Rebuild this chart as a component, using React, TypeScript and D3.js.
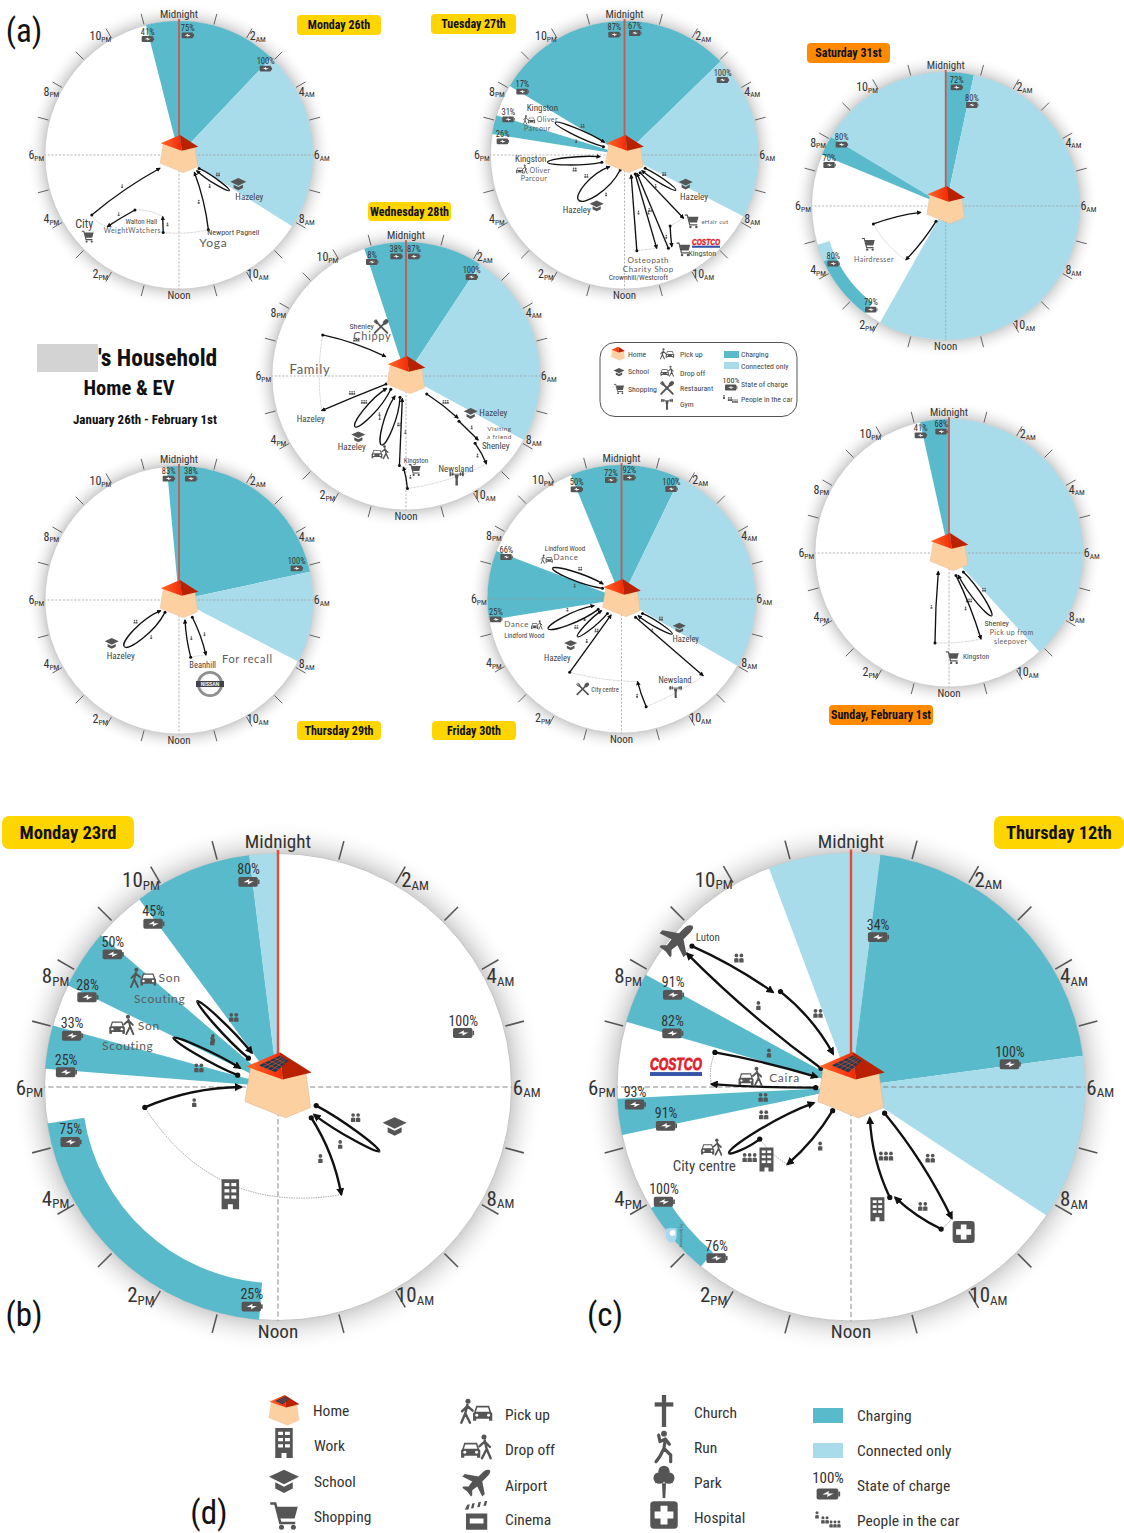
import React from "react";
import * as d3 from "d3";

const FONT = '"Liberation Sans Narrow","Roboto Condensed","Noto Sans",sans-serif';
const HAND = 'Lato,"Noto Sans",sans-serif';
const TEAL = "#58bacb";
const LIGHT = "#a9dcea";
const GREY = "#555";
const R0 = 134;

const angle = d3.scaleLinear().domain([0, 24]).range([0, 2 * Math.PI]);
const radius = d3.scaleLinear().domain([0, 1]).range([0, R0]);
const pt = (h: number, r: number): [number, number] => [
  radius(r) * Math.sin(angle(h)),
  -radius(r) * Math.cos(angle(h)),
];

const tickHours = [1, 2, 3, 4, 5, 7, 8, 9, 10, 11, 13, 14, 15, 16, 17, 19, 20, 21, 22, 23];
const hourLabels: [number, string, string][] = [
  [2, "2", "AM"], [4, "4", "AM"], [6, "6", "AM"], [8, "8", "AM"], [10, "10", "AM"],
  [14, "2", "PM"], [16, "4", "PM"], [18, "6", "PM"], [20, "8", "PM"], [22, "10", "PM"],
];

// sectors: start hour, end hour, kind, inner radius share
type Sec = [number, number, string, number?];
// trips: from hour, from distance, to hour, to distance, bend, people in car
type Trip = [number, number, number, number, number, number];
type Stay = [number, number, number, number, number];

const monSectors: Sec[] = [[23.05, 26.9, "c"], [2.9, 8.15, "l"]];
const monTrips: Trip[] = [
  [8.25, .18, 8.35, .46, -.08, 2], [8.35, .46, 8.77, .176, -.08, 1],
  [10.57, .6, 9.23, .173, .06, -1], [12.77, .59, 12.99, .476, .01, 1],
  [14.58, .526, 15.0, .756, .02, 1], [15.7, .79, 15.67, .173, -.05, 1],
];
const monStays: Stay[] = [[15.0, .756, 15.7, .79, -.2], [14.58, .526, 12.99, .476, -.15], [12.77, .59, 10.57, .6, .08]];
const monSoc: [string, number, number][] = [["41%", 443, 117], ["75%", 563, 106], ["100%", 797, 206]];
const monText: [string, number, number, number, string?][] = [
  ["City", 253, 672, 12], ["Hazeley", 748, 590, 9], ["Walton Hall", 424, 663, 7],
  ["WeightWatchers", 397, 692, 7, "h"], ["Newport Pagnell", 700, 697, 8], ["Yoga", 640, 728, 12, "h"],
];
const monIcons: [string, number, number, number][] = [["cart", 263, 710, 13], ["school", 715, 552, 16]];

const tueSectors: Sec[] = [[20.07, 27.05, "c"], [3.05, 7.82, "l"], [18.6, 19.15, "c"]];
const tueTrips: Trip[] = [
  [8.19, .184, 8.29, .464, -.08, 2], [8.29, .464, 8.8, .174, -.08, 1],
  [9.23, .176, 9.13, .646, 0, 0], [9.82, .63, 10.18, .77, .02, 1],
  [10.32, .77, 9.73, .165, 0, 1], [10.05, .163, 10.73, .737, 0, 2], [11.51, .72, 10.77, .157, 0, -1],
  [13.07, .117, 15.04, .48, -.22, 1], [15.04, .48, 15.46, .14, -.22, 2],
  [16.8, .178, 17.64, .577, -.08, 2], [17.64, .577, 17.74, .182, -.08, 0],
  [19.44, .169, 19.67, .57, -.08, 1], [19.67, .57, 20.15, .177, -.08, 2],
];
const tueStays: Stay[] = [[10.18, .77, 10.32, .77, 0], [10.73, .737, 11.51, .72, 0], [9.13, .646, 9.82, .63, 0]];
const tueSoc: [string, number, number][] = [["87%", 583, 104], ["67%", 645, 99], ["100%", 908, 240], ["17%", 307, 275], ["31%", 265, 358], ["26%", 248, 424]];
const tueText: [string, number, number, number, string?][] = [
  ["Kingston", 367, 322, 9], ["Oliver", 382, 358, 7, "h"], ["Parcour", 352, 385, 7, "h"],
  ["Kingston", 332, 477, 9], ["Oliver", 360, 510, 7, "h"], ["Parcour", 342, 535, 7, "h"],
  ["Hazeley", 470, 628, 9], ["Hazeley", 822, 590, 9], ["eHair cut", 885, 667, 6, "h"],
  ["Kingston", 847, 758, 8], ["Osteopath", 685, 780, 8, "h"], ["Charity Shop", 685, 808, 8, "h"],
  ["Crownhill/Westcroft", 655, 833, 7.5],
];
const tueIcons: [string, number, number, number][] = [
  ["pickup", 327, 360, 12], ["dropoff", 305, 510, 12], ["school", 530, 617, 14], ["school", 797, 552, 14],
  ["cart", 815, 664, 15], ["cart", 790, 748, 15], ["costco", 858, 730, 28],
];

const wedSectors: Sec[] = [[22.79, 26.23, "c"], [2.23, 7.9, "l"]];
const wedTrips: Trip[] = [
  [8.73, .205, 8.6, .5, -.04, 3], [8.7, .52, 8.77, .72, 0, 1], [8.95, .72, 9.17, .89, -.06, -1],
  [11.95, .84, 12.11, .68, .05, 1], [12.28, .67, 12.62, .17, 0, -1],
  [13.05, .165, 13.3, .546, -.14, 2], [13.3, .546, 13.92, .17, -.14, 1],
  [15.27, .15, 15.01, .536, -.14, 1], [15.01, .536, 15.83, .171, -.14, 3],
  [16.53, .16, 16.51, .68, .01, 3], [19.75, .693, 20.9, .21, -.06, 3],
];
const wedStays: Stay[] = [[9.17, .89, 11.95, .84, -.08], [16.51, .68, 19.75, .693, -.08], [8.77, .72, 8.95, .72, 0], [12.11, .68, 12.28, .67, 0]];
const wedSoc: [string, number, number][] = [["8%", 396, 156], ["38%", 469, 139], ["87%", 522, 139], ["100%", 695, 201]];
const wedText: [string, number, number, number, string?][] = [
  ["Shenley", 365, 348, 8], ["Chippy", 397, 377, 11, "h"], ["Family", 210, 478, 13, "h"],
  ["Hazeley", 212, 627, 9], ["Hazeley", 335, 711, 9], ["Kingston", 528, 751, 7],
  ["Hazeley", 760, 607, 9], ["Visiting", 778, 657, 6.5, "h"], ["a friend", 778, 680, 6.5, "h"],
  ["Shenley", 767, 707, 9], ["Newsland", 648, 775, 9],
];
const wedIcons: [string, number, number, number][] = [
  ["restaurant", 423, 350, 15], ["school", 355, 680, 14], ["dropoff", 420, 730, 18],
  ["cart", 524, 780, 13], ["school", 692, 610, 14], ["gym", 650, 805, 17],
];

const thuSectors: Sec[] = [[23.65, 29.19, "c"], [5.19, 7.82, "l"]];
const thuTrips: Trip[] = [
  [9.49, .163, 10.26, .457, -.06, 1], [11.23, .437, 10.89, .156, -.05, -1],
  [15.24, .139, 15.3, .536, -.17, 1], [15.3, .536, 15.99, .158, -.17, 2],
];
const thuStays: Stay[] = [[10.26, .457, 11.23, .437, .05]];
const thuSoc: [string, number, number][] = [["83%", 416, 86], ["38%", 483, 86], ["100%", 800, 355]];
const thuText: [string, number, number, number, string?][] = [
  ["Hazeley", 272, 618, 9], ["Beanhill", 518, 645, 8.5], ["For recall", 652, 628, 11, "h"],
];
const thuIcons: [string, number, number, number][] = [["school", 245, 580, 14], ["nissan", 540, 702, 28]];

const friSectors: Sec[] = [[22.52, 25.72, "c"], [1.72, 8.0, "l"], [17.4, 19.4, "c"]];
const friTrips: Trip[] = [
  [8.3, .19, 8.3, .46, -.08, 2], [8.3, .46, 9, .176, -.08, 1], [9.5, .172, 8.88, .836, 0, 0],
  [11.14, .824, 11.27, .628, -.04, 1], [14.35, .67, 14.2, .142, 0, 1],
  [14.95, .15, 15.3, .432, -.1, 2], [15.3, .432, 15.98, .172, -.1, 1],
  [16.4, .19, 16.53, .59, -.12, 2], [16.53, .59, 17.09, .21, -.12, 1],
  [19.95, .163, 19.6, .563, -.1, 1], [19.6, .563, 20.62, .177, -.1, 2],
];
const friStays: Stay[] = [[8.88, .836, 11.14, .824, -.06], [11.27, .628, 14.35, .67, -.06]];
const friSoc: [string, number, number][] = [["50%", 320, 148], ["72%", 423, 120], ["92%", 478, 113], ["100%", 604, 147], ["66%", 109, 351], ["25%", 78, 538]];
const friText: [string, number, number, number, string?][] = [
  ["Lindford Wood", 285, 326, 7], ["Dance", 288, 350, 8, "h"], ["Dance", 140, 553, 8, "h"],
  ["Lindford Wood", 163, 586, 7], ["Hazeley", 262, 653, 8.5], ["Hazeley", 647, 598, 8.5],
  ["Newsland", 615, 719, 8.5], ["City centre", 405, 748, 6.5],
];
const friIcons: [string, number, number, number][] = [
  ["pickup", 230, 358, 12], ["dropoff", 200, 557, 12], ["school", 302, 615, 13], ["school", 628, 563, 13],
  ["restaurant", 338, 747, 13], ["gym", 617, 755, 15],
];

const satSectors: Sec[] = [[0, .81, "c"], [.81, 13.96, "l"], [20.07, 24, "l"], [19.5, 20.07, "c"], [14.47, 16.38, "c", .905], [16.38, 16.88, "l", .905]];
const satTrips: Trip[] = [[14.15, .135, 14.43, .5, -.05, 0], [17.07, .556, 17.05, .192, -.06, 0]];
const satStays: Stay[] = [[14.43, .5, 17.07, .556, -.12]];
const satSoc: [string, number, number][] = [["72%", 470, 142], ["80%", 516, 195], ["80%", 125, 314], ["70%", 88, 375], ["80%", 100, 671], ["79%", 213, 809]];
const satText: [string, number, number, number, string?][] = [["Hairdresser", 222, 657, 7, "h"]];
const satIcons: [string, number, number, number][] = [["cart", 205, 613, 14]];

const sunSectors: Sec[] = [[23.17, 24, "c"], [0, 9.17, "l"]];
const sunTrips: Trip[] = [
  [9.53, .178, 9.72, .566, -.1, 2], [9.72, .566, 10.49, .18, -.1, 3],
  [10.84, .175, 10.64, .685, -.04, -1], [12.59, .68, 14.01, .158, -.02, 1],
];
const sunStays: Stay[] = [[10.64, .685, 12.59, .68, -.06]];
const sunSoc: [string, number, number][] = [["41%", 362, 106], ["68%", 424, 95]];
const sunText: [string, number, number, number, string?][] = [
  ["Shenley", 590, 668, 8], ["Pick up from", 635, 697, 7, "h"], ["sleepover", 632, 725, 7, "h"], ["Kingston", 528, 768, 7.5],
];
const sunIcons: [string, number, number, number][] = [["cart", 457, 773, 14]];

const bSectors: Sec[] = [[21.57, 23.53, "c"], [23.53, 24, "l"], [19.72, 20.71, "c"], [18.3, 19.02, "c"], [12.31, 17.4, "c", .84]];
const bTrips: Trip[] = [
  [7.73, .182, 8.16, .514, -.06, 2], [8.16, .514, 8.5, .194, -.06, 1], [8.85, .194, 9.97, .535, -.1, -1],
  [17.42, .577, 18, .157, -.1, -1], [19.09, .18, 19.68, .495, -.06, 2], [19.68, .495, 19.77, .181, -.06, 1],
  [20.95, .177, 21.12, .505, -.06, 1], [21.12, .505, 21.5, .183, -.06, 2],
];
const bStays: Stay[] = [[9.97, .535, 17.42, .577, -.33]];
const bSoc: [string, number, number][] = [["80%", 696, 209], ["45%", 430, 331], ["50%", 316, 420], ["28%", 245, 545], ["33%", 202, 657], ["25%", 185, 763], ["75%", 198, 966], ["25%", 705, 1445], ["100%", 1297, 649]];
const bText: [string, number, number, number, string?][] = [
  ["Son", 475, 487, 12, "h"], ["Scouting", 447, 549, 12, "h"], ["Son", 417, 627, 12, "h"], ["Scouting", 358, 686, 12, "h"],
];
const bIcons: [string, number, number, number][] = [["pickup", 400, 490, 26], ["dropoff", 340, 630, 26], ["school", 1105, 920, 24], ["work", 645, 1118, 30]];

const cSectors: Sec[] = [[22.63, 24.48, "l"], [.48, 5.49, "c"], [5.49, 8.22, "l"], [19.08, 19.91, "c"], [17.21, 17.81, "c"], [14.66, 15.92, "c", .92]];
const cTrips: Trip[] = [
  [8.53, .182, 9.5, .708, -.06, 2], [9.84, .719, 10.55, .508, -.08, -2], [10.71, .5, 9.9, .154, -.1, -3],
  [14.52, .128, 14.63, .428, -.08, 1], [16.02, .449, 16.1, .593, -.1, 3], [16.1, .593, 16.45, .172, -.08, 2],
  [17.93, .151, 18.08, .597, -.02, 2], [18.95, .6, 19.09, .15, -.03, 1], [20.13, .151, 20.61, .905, -.04, -1],
  [20.77, .908, 21.37, .524, -.05, 2], [21.57, .507, 22.11, .16, -.1, 2],
];
const cStays: Stay[] = [[14.63, .428, 16.02, .449, -.1], [18.08, .597, 18.95, .6, -.15], [20.61, .905, 20.77, .908, -.2], [9.5, .708, 9.84, .719, -.1]];
const cSoc: [string, number, number][] = [["34%", 872, 370], ["100%", 1245, 740], ["91%", 292, 538], ["82%", 290, 650], ["93%", 184, 857], ["91%", 272, 919], ["100%", 266, 1140], ["76%", 415, 1304]];
const cText: [string, number, number, number, string?][] = [
  ["Luton", 390, 370, 11], ["Caira", 607, 778, 12, "h"], ["City centre", 380, 1035, 15],
];
const cIcons: [string, number, number, number][] = [
  ["plane", 300, 385, 36], ["costco", 300, 750, 52], ["dropoff", 510, 780, 25], ["dropoff", 400, 985, 22],
  ["work", 556, 1017, 24], ["work", 870, 1162, 24], ["hospital", 1114, 1228, 24], ["ou", 295, 1238, 20],
];

const clocks = [
  { id: "mon", cx: 179, cy: 155, R: 134, crop: [0, 0, 3, 3], sectors: monSectors, trips: monTrips, stays: monStays, soc: monSoc, text: monText, icons: monIcons },
  { id: "tue", cx: 624.5, cy: 155, R: 134, crop: [420, 0, 3, 3], sectors: tueSectors, trips: tueTrips, stays: tueStays, soc: tueSoc, text: tueText, icons: tueIcons },
  { id: "thu", cx: 179, cy: 600, R: 134, crop: [30, 450, 3, 3], sectors: thuSectors, trips: thuTrips, stays: thuStays, soc: thuSoc, text: thuText, icons: thuIcons },
  { id: "fri", cx: 621.5, cy: 599, R: 134, crop: [470, 440, 3, 3], sectors: friSectors, trips: friTrips, stays: friStays, soc: friSoc, text: friText, icons: friIcons },
  { id: "sat", cx: 945.7, cy: 206, R: 134, crop: [800, 40, 3, 3], sectors: satSectors, trips: satTrips, stays: satStays, soc: satSoc, text: satText, icons: satIcons },
  { id: "sun", cx: 949, cy: 553, R: 134, crop: [800, 400, 3, 3], sectors: sunSectors, trips: sunTrips, stays: sunStays, soc: sunSoc, text: sunText, icons: sunIcons },
  { id: "wed", cx: 406, cy: 376, R: 134, crop: [240, 210, 3, 3], sectors: wedSectors, trips: wedTrips, stays: wedStays, soc: wedSoc, text: wedText, icons: wedIcons },
  { id: "b", cx: 278, cy: 1087, R: 233.5, big: true, crop: [0, 810, 2.8, 2.91], sectors: bSectors, trips: bTrips, stays: bStays, soc: bSoc, text: bText, icons: bIcons },
  { id: "c", cx: 851, cy: 1087, R: 234, big: true, crop: [570, 810, 2.83, 2.91], sectors: cSectors, trips: cTrips, stays: cStays, soc: cSoc, text: cText, icons: cIcons },
];

const badges: [string, number, number, number, number, string, number][] = [
  ["Monday 26th", 297, 15, 84, 20, "#ffd500", 12], ["Tuesday 27th", 431, 14, 85, 20, "#ffd500", 12],
  ["Saturday 31st", 807, 43, 83, 20, "#ff8a00", 12], ["Wednesday 28th", 368, 202, 83, 19, "#ffd500", 12],
  ["Thursday 29th", 297, 721, 84, 19, "#ffd500", 12], ["Friday 30th", 432, 721, 84, 19, "#ffd500", 12],
  ["Sunday, February 1st", 829, 705, 104, 20, "#ff8a00", 12], ["Monday 23rd", 2, 816, 132, 33, "#ffd500", 18.6],
  ["Thursday 12th", 994, 816, 130, 33, "#ffd500", 18.4],
];
const panelLetters: [string, number, number][] = [["(a)", 24, 30], ["(b)", 24, 1314], ["(c)", 605, 1314], ["(d)", 209, 1512]];

const smallLegendIcons: [string, number, number, number][] = [
  ["school", 619, 372, 11], ["cart", 619, 389, 11], ["pickup", 667, 354, 14], ["dropoff", 667, 372, 14],
  ["restaurant", 667, 388, 14], ["gym", 667, 404, 14],
];
const smallLegendText: [string, number, number][] = [
  ["Home", 628, 354], ["School", 628, 371], ["Shopping", 628, 389], ["Pick up", 680, 354], ["Drop off", 680, 373],
  ["Restaurant", 680, 388], ["Gym", 680, 404], ["Charging", 741, 354], ["Connected only", 741, 366],
  ["State of charge", 741, 384], ["People in the car", 741, 399],
];
const bigLegendIcons: [string, number, number, number][] = [
  ["work", 284, 1443, 30], ["school", 284, 1481, 30], ["cart", 284, 1516, 30], ["pickup", 476, 1412, 32],
  ["dropoff", 476, 1449, 32], ["plane", 476, 1484, 30], ["cinema", 476, 1516, 30], ["church", 664, 1411, 32],
  ["run", 664, 1447, 32], ["park", 664, 1482, 32], ["hospital", 664, 1515, 30],
];
const bigLegendText: [string, number, number][] = [
  ["Home", 313, 1410], ["Work", 314, 1445], ["School", 314, 1481], ["Shopping", 314, 1516],
  ["Pick up", 505, 1414], ["Drop off", 505, 1449], ["Airport", 505, 1485], ["Cinema", 505, 1519],
  ["Church", 694, 1412], ["Run", 694, 1447], ["Park", 694, 1482], ["Hospital", 694, 1517],
  ["Charging", 857, 1415], ["Connected only", 857, 1450], ["State of charge", 857, 1485], ["People in the car", 857, 1520],
];

const Person = ({ x = 0 }: { x?: number }) => (
  <g transform={`translate(${x},0)`}>
    <circle cx={0} cy={-1.2} r={0.85} fill={GREY} />
    <path d="M-1,2 L-1,0.3 Q0,-.4 1,0.3 L1,2 Z" fill={GREY} />
  </g>
);
const People = ({ n, x, y, s = 1 }: { n: number; x: number; y: number; s?: number }) => (
  <g transform={`translate(${x},${y}) scale(${s})`}>
    {d3.range(n).map((i) => <Person key={i} x={(i - (n - 1) / 2) * 2.3} />)}
  </g>
);

const Battery = ({ x, y, s }: { x: number; y: number; s: number }) => (
  <g transform={`translate(${x},${y}) scale(${s})`}>
    <rect x={-6} y={-2.9} width={11.4} height={5.8} rx={1} fill={GREY} />
    <rect x={5.4} y={-1.3} width={1} height={2.6} fill={GREY} />
    <path d="M-3,0.3 L0.5,-1.6 L0.2,-0.3 L3,-0.3 L-0.5,1.6 L-0.2,0.3 Z" fill="#fff" />
  </g>
);

const Car = () => (
  <g>
    <path d="M-8,-1 L-6,-7 L6,-7 L8,-1 L9,0 L9,7 L6,7 L6,5 L-6,5 L-6,7 L-9,7 L-9,0 Z" fill={GREY} />
    <path d="M-5,-5.5 L5,-5.5 L6.3,-1.5 L-6.3,-1.5 Z" fill="#fff" />
    <circle cx={-5.5} cy={1.8} r={1.4} fill="#fff" />
    <circle cx={5.5} cy={1.8} r={1.4} fill="#fff" />
  </g>
);
const Walker = ({ flip = 1 }: { flip?: number }) => (
  <g transform={`scale(${flip},1)`} stroke={GREY} strokeWidth={1.8} fill="none" strokeLinecap="round">
    <circle cx={1} cy={-9} r={1.9} fill={GREY} stroke="none" />
    <path d="M0.5,-6.5 L-1,0 L-4,7 M-1,0 L2.5,7 M0.5,-5.5 L4.5,-2 M0.5,-5.5 L-3.5,-1.5" />
  </g>
);

const IconShape = ({ kind }: { kind: string }) => {
  switch (kind) {
    case "school":
      return (<g fill={GREY}><path d="M0,-9 L12,-3.5 L0,2.5 L-12,-3.5 Z" /><path d="M-7,1 L0,4.5 L7,1 L7,6 L0,9.5 L-7,6 Z" /></g>);
    case "cart":
      return (<g fill={GREY}><path d="M-11,-10 L-7,-10 L-3,5.5 L9,5.5" fill="none" stroke={GREY} strokeWidth={2} /><path d="M-6,-7.5 L11,-7.5 L8.5,2 L-3.8,2 Z" /><circle cx={-2} cy={9} r={2} /><circle cx={7.5} cy={9} r={2} /></g>);
    case "restaurant":
      return (
        <g stroke={GREY} strokeLinecap="round" fill="none">
          <path d="M-10,10 L6,-6" strokeWidth={3.2} />
          <path d="M10,10 L-6,-6" strokeWidth={3.2} />
          <ellipse cx={7.5} cy={-7.5} rx={3.6} ry={5} transform="rotate(45 7.5 -7.5)" fill={GREY} stroke="none" />
          <path d="M-6,-6 L-10,-10 M-5,-7 L-8,-11 M-7,-5 L-11,-8" strokeWidth={1.8} />
        </g>
      );
    case "pickup":
      return (<g><g transform="translate(-7,1)"><Walker /></g><g transform="translate(5,1) scale(.8)"><Car /></g></g>);
    case "dropoff":
      return (<g><g transform="translate(-4,1) scale(.8)"><Car /></g><g transform="translate(7,0)"><Walker flip={-1} /></g></g>);
    case "work":
      return (
        <g>
          <path d="M-7,-12 L7,-12 L7,12 L2,12 L2,8 L-2,8 L-2,12 L-7,12 Z" fill={GREY} />
          {[-9, -4, 1].map((y) => [-4.7, .8].map((x) => <rect key={`${x}${y}`} x={x} y={y} width={3.9} height={2.6} fill="#fff" />))}
        </g>
      );
    case "gym":
      return (
        <g fill={GREY}>
          <rect x={-10} y={-6.5} width={20} height={1.2} />
          <rect x={-10} y={-9} width={2.5} height={6} rx={.8} /><rect x={7.5} y={-9} width={2.5} height={6} rx={.8} />
          <rect x={-6.5} y={-8.5} width={2} height={5} rx={.8} /><rect x={4.5} y={-8.5} width={2} height={5} rx={.8} />
          <path d="M-3,-5 L3,-5 L1.6,1 L1.8,10 L-1.8,10 L-1.6,1 Z" />
        </g>
      );
    case "plane":
      return (<path fill={GREY} d="M11,-11 C9,-12 7,-11 5,-9 L2,-6 L-9,-8 L-11,-6 L-3,-2 L-6,2 L-10,2 L-11,3 L-7,6 L-4,10 L-3,9 L-3,5 L1,2 L5,10 L7,8 L5,-2 L9,-6 C11,-8 12,-10 11,-11 Z" />);
    case "hospital":
      return (<g><rect x={-11} y={-11} width={22} height={22} rx={3} fill={GREY} /><path d="M-2.8,-7.5 L2.8,-7.5 L2.8,-2.8 L7.5,-2.8 L7.5,2.8 L2.8,2.8 L2.8,7.5 L-2.8,7.5 L-2.8,2.8 L-7.5,2.8 L-7.5,-2.8 L-2.8,-2.8 Z" fill="#fff" /></g>);
    case "run":
      return (<g stroke={GREY} fill="none" strokeWidth={2.4} strokeLinecap="round" strokeLinejoin="round"><circle cx={0} cy={-10} r={2.2} fill={GREY} stroke="none" /><path d="M-4,-9 L-3,-4 L1,-6 L4,-2 M1,-6 L0,1 L5,6 L5,11 M0,1 L-3,7 L-6,11" /></g>);
    case "park":
      return (<g fill={GREY}><circle cx={0} cy={-8} r={4.2} /><circle cx={-3.5} cy={-3} r={4.4} /><circle cx={3.5} cy={-3} r={4.4} /><path d="M-1.5,1 L1.5,1 L1,12 L-1,12 Z" /></g>);
    case "church":
      return (<g fill={GREY}><rect x={-1.6} y={-12} width={3.2} height={24} /><rect x={-7} y={-6.5} width={14} height={3.2} /></g>);
    case "cinema":
      return (<g fill={GREY}><rect x={-8} y={-2} width={17} height={13} /><rect x={-5} y={2} width={11} height={4} fill="#fff" /><path d="M-9,-5 L-7,-9 L-5,-9.5 L-6,-5.3 Z M-4,-6 L-3,-10 L-1,-10.5 L-2,-6.3 Z M1,-7 L2,-11 L4,-11.5 L3,-7.3 Z M6,-8 L7,-12 L9,-12 L8,-8.3 Z" /></g>);
    case "costco":
      return (
        <g>
          <text x={0} y={1} textAnchor="middle" fontFamily="Liberation Sans" fontWeight={700} fontStyle="italic" fontSize={7.2} fill="#e0202c" stroke="#e0202c" strokeWidth={.35} textLength={24} lengthAdjust="spacingAndGlyphs">COSTCO</text>
          <rect x={-12} y={2} width={24} height={1.8} fill="#3454a8" />
        </g>
      );
    case "nissan":
      return (
        <g>
          <circle r={10} fill="#fff" stroke="#8f8f8f" strokeWidth={2.4} />
          <rect x={-12} y={-2.6} width={24} height={5.2} fill="#444" />
          <text y={1.7} textAnchor="middle" fontFamily="Liberation Sans" fontWeight={700} fontSize={4.2} fill="#fff">NISSAN</text>
        </g>
      );
    case "ou":
      return (
        <g>
          <path d="M-10,-8 Q0,-10 3,-8 L3,2 Q2,8 -4,9 Q-10,6 -10,0 Z" fill="#a8d8ee" />
          <circle cx={-2} cy={-3} r={3.5} fill="#fff" />
          <text transform="translate(7,0) rotate(90)" textAnchor="middle" fontSize={3.6} fill="#555" fontFamily={FONT}>The Open University</text>
        </g>
      );
    default:
      return null;
  }
};
const Icon = ({ kind, x, y, size }: { kind: string; x: number; y: number; size: number }) => (
  <g transform={`translate(${x},${y}) scale(${size / 24})`}><IconShape kind={kind} /></g>
);

const House = ({ solar }: { solar?: boolean }) => (
  <g>
    <polygon points="-15.7,-11.7 16,-8 18.7,11.7 4.3,17.7 -19,8.3" fill="#fdd0a2" stroke="#d9b08a" strokeWidth={.3} />
    <polygon points="1,-20 -18.3,-11.7 2.7,-4.3" fill="url(#roofL)" />
    <polygon points="1,-20 2.7,-4.3 19.3,-8.3" fill="#b82200" />
    {solar && (
      <g>
        <polygon points="1,-18 -11,-12.5 -1.5,-8.5 6,-15" fill="#223a50" />
        {[0.25, 0.5, 0.75].map((t) => (
          <g key={t} stroke="#e8502a" strokeWidth={.35}>
            <line x1={1 - 12 * t} y1={-18 + 5.5 * t} x2={6 - 7.5 * t} y2={-15 + 6.5 * t} />
            <line x1={1 + 5 * t} y1={-18 + 3 * t} x2={-11 + 9.5 * t} y2={-12.5 + 4 * t} />
          </g>
        ))}
      </g>
    )}
  </g>
);

const arcGen = d3.arc<Sec>()
  .innerRadius((d) => radius(d[3] ?? 0))
  .outerRadius(radius(1))
  .startAngle((d) => angle(d[0]))
  .endAngle((d) => angle(d[1]));

const bent = (x1: number, y1: number, x2: number, y2: number, bend: number) => {
  const dx = x2 - x1, dy = y2 - y1;
  const p = d3.path();
  p.moveTo(x1, y1);
  p.quadraticCurveTo((x1 + x2) / 2 - dy * bend, (y1 + y2) / 2 + dx * bend, x2, y2);
  return p.toString();
};
// one half of an out-and-back loop: the far end is blunt, as in an ellipse
const loop = (x1: number, y1: number, x2: number, y2: number, bend: number, bluntEnd: boolean) => {
  const dx = x2 - x1, dy = y2 - y1, B = bend * .95;
  const p = d3.path();
  p.moveTo(x1, y1);
  if (bluntEnd) {
    p.bezierCurveTo(x1 + dx * .4 - dy * B, y1 + dy * .4 + dx * B, x2 - dy * B * .7, y2 + dx * B * .7, x2, y2);
  } else {
    p.bezierCurveTo(x1 - dy * B * .7, y1 + dx * B * .7, x2 - dx * .4 - dy * B, y2 - dy * .4 + dx * B, x2, y2);
  }
  return p.toString();
};

const Clock = ({ c }: { c: any }) => {
  const k = c.R / R0;
  const [ox, oy, sx, sy] = c.crop;
  const px = (z: number) => ox + z / sx;
  const py = (z: number) => oy + z / sy;
  return (
    <g>
      <circle cx={c.cx} cy={c.cy} r={c.R * 1.14} fill="url(#halo)" />
      <g transform={`translate(${c.cx},${c.cy}) scale(${k})`}>
        <circle r={R0} fill="#fff" stroke="#bdbdbd" strokeWidth={.5} />
        {c.sectors.map((s: Sec, i: number) => (
          <path key={i} d={arcGen(s) as string} fill={s[2] === "c" ? TEAL : LIGHT} />
        ))}
        {[6, 12, 18].map((h) => {
          const [x, y] = pt(h, 1);
          return <line key={h} x1={0} y1={0} x2={x} y2={y} stroke={c.big ? "#777" : "#999"} strokeWidth={c.big ? .5 : .7} strokeDasharray={c.big ? "3 1.6" : "2.2 1.6"} />;
        })}
        {tickHours.map((h) => {
          const [x1, y1] = pt(h, 1.008), [x2, y2] = pt(h, 1.09);
          return <line key={h} x1={x1} y1={y1} x2={x2} y2={y2} stroke="#555" strokeWidth={.9} />;
        })}
        {hourLabels.map(([h, n, u]) => {
          const shift = h === 6 || h === 18 ? 0 : (h < 6 || (h > 12 && h < 18) ? .23 : -.23);
          const [x, y] = pt(h + shift, 1.065);
          return (
            <text key={h} x={x} y={y} dy=".36em" textAnchor="middle" fontFamily={FONT} fontSize={12} fill="#333">
              {n}<tspan fontSize={7.5} dy="1.5">{u}</tspan>
            </text>
          );
        })}
        <text x={0} y={-R0 - 7} dy=".36em" textAnchor="middle" fontFamily={FONT} fontSize={11} fill="#333">Midnight</text>
        <text x={0} y={R0 + 6} dy=".36em" textAnchor="middle" fontFamily={FONT} fontSize={11} fill="#333">Noon</text>
        <line x1={0} y1={-R0 - 2} x2={0} y2={-19} stroke={c.big ? "#e8483a" : "#c65a50"} strokeWidth={c.big ? 1.4 : 1.8} />
        {c.stays.map((s: Stay, i: number) => {
          const [x1, y1] = pt(s[0], s[1]), [x2, y2] = pt(s[2], s[3]);
          return <path key={i} d={bent(x1, y1, x2, y2, s[4])} fill="none" stroke="#999" strokeWidth={.55} strokeDasharray=".8 .6" />;
        })}
        {c.trips.map((t: Trip, i: number) => {
          const next = c.trips[i + 1], prev = c.trips[i - 1];
          const bluntEnd = !!next && next[0] === t[2] && next[1] === t[3];
          const bluntStart = !!prev && prev[2] === t[0] && prev[3] === t[1];
          const [x1, y1] = pt(t[0], t[1]), [x2, y2] = pt(t[2], t[3]);
          const dx = x2 - x1, dy = y2 - y1, len = Math.hypot(dx, dy);
          const n = t[5], side = n < 0 ? -1 : 1;
          const sgn = (t[4] === 0 ? -1 : Math.sign(t[4]));
          const isLoop = bluntEnd || bluntStart;
          const off = t[4] * (isLoop ? .62 : .5) + sgn * side * (c.big ? 6 : 4.5) / len;
          const mx = (x1 + x2) / 2 - dy * off, my = (y1 + y2) / 2 + dx * off;
          const d = isLoop ? loop(x1, y1, x2, y2, t[4], bluntEnd) : bent(x1, y1, x2, y2, t[4]);
          return (
            <g key={i}>
              <path d={d} fill="none" stroke="#111" strokeWidth={1.35} markerEnd={bluntEnd ? undefined : "url(#arr)"} />
              {!bluntStart && <circle cx={x1} cy={y1} r={1.5} fill="#111" />}
              {n !== 0 && <People n={Math.abs(n)} x={mx} y={my} s={c.big ? 1.25 : .95} />}
            </g>
          );
        })}
        <House solar={c.big} />
      </g>
      {c.soc.map(([t, zx, zy]: [string, number, number], i: number) => (
        <g key={i}>
          <Battery x={px(zx)} y={py(zy)} s={c.big ? 1.7 : 1} />
          <text x={px(zx)} y={py(zy) - (c.big ? 12.5 : 7.5)} dy=".36em" textAnchor="middle" fontFamily={FONT} fontSize={c.big ? 14 : 8.5} fill="#333">{t}</text>
        </g>
      ))}
      {c.text.map(([t, zx, zy, fs, hand]: [string, number, number, number, string?], i: number) => (
        <text key={i} x={px(zx)} y={py(zy)} dy=".36em" textAnchor="middle"
          fontFamily={hand ? HAND : FONT} fontWeight={400}
          letterSpacing={hand ? ".06em" : undefined} fontSize={fs} fill={hand ? "#5c5c5c" : "#444"}>{t}</text>
      ))}
      {c.icons.map(([kind, zx, zy, size]: [string, number, number, number], i: number) => (
        <Icon key={i} kind={kind} x={px(zx)} y={py(zy)} size={size} />
      ))}
    </g>
  );
};

export default function App() {
  return (
    <svg width={1124} height={1533} style={{ position: "absolute", left: 0, top: 0, background: "#fff" }}>
      <defs>
        <radialGradient id="halo">
          <stop offset="0.86" stopColor="#adadad" stopOpacity={.75} />
          <stop offset="1" stopColor="#ffffff" stopOpacity={0} />
        </radialGradient>
        <linearGradient id="roofL" x1="0" x2="1" y1="0" y2="0">
          <stop offset="0" stopColor="#ff6a2a" />
          <stop offset="1" stopColor="#f02a08" />
        </linearGradient>
        <marker id="arr" viewBox="0 0 10 10" refX="8" refY="5" markerWidth="3.4" markerHeight="3.4" orient="auto">
          <path d="M0,0 L10,5 L0,10 Z" fill="#111" />
        </marker>
      </defs>
      {clocks.map((c) => <Clock key={c.id} c={c} />)}

      {badges.map(([t, x, y, w, h, col, fs]) => (
        <g key={t}>
          <rect x={x} y={y} width={w} height={h} rx={h > 25 ? 7 : 4} fill={col} />
          <text x={x + w / 2} y={y + h / 2} dy=".36em" textAnchor="middle" fontFamily={FONT} fontWeight={700} fontSize={fs} fill="#111">{t}</text>
        </g>
      ))}
      {panelLetters.map(([t, x, y]) => (
        <text key={t} x={x} y={y} dy=".36em" textAnchor="middle" fontFamily={FONT} fontSize={33} fill="#111">{t}</text>
      ))}

      <rect x={37} y={344} width={61} height={28} fill="#d3d3d3" />
      <text x={98} y={358} dy=".36em" fontFamily={FONT} fontWeight={700} fontSize={23.5} fill="#111">'s Household</text>
      <text x={129} y={388} dy=".36em" textAnchor="middle" fontFamily={FONT} fontWeight={700} fontSize={20.5} fill="#111">Home &amp; EV</text>
      <text x={145} y={419} dy=".36em" textAnchor="middle" fontFamily={FONT} fontWeight={700} fontSize={13} fill="#111">January 26th - February 1st</text>

      <rect x={600} y={342.5} width={197} height={74} rx={15} fill="#fff" stroke="#555" strokeWidth={1} />
      <g transform="translate(618,354) scale(.36)"><House /></g>
      {smallLegendIcons.map(([kind, x, y, s], i) => <Icon key={i} kind={kind} x={x} y={y} size={s} />)}
      {smallLegendText.map(([t, x, y]) => (
        <text key={t} x={x} y={y} dy=".36em" fontFamily={FONT} fontSize={7.8} fill="#444">{t}</text>
      ))}
      <rect x={724} y={351} width={15} height={7} fill={TEAL} />
      <rect x={724} y={362} width={15} height={7} fill={LIGHT} />
      <text x={731} y={380} dy=".36em" textAnchor="middle" fontFamily={FONT} fontSize={8} fill="#333">100%</text>
      <Battery x={731} y={387.5} s={1} />
      <People n={1} x={724} y={397} s={1} />
      <People n={2} x={730} y={399} s={1} />
      <People n={3} x={735} y={401} s={.9} />

      <g transform="translate(284,1411) scale(.8)"><House solar /></g>
      {bigLegendIcons.map(([kind, x, y, s], i) => <Icon key={i} kind={kind} x={x} y={y} size={s} />)}
      {bigLegendText.map(([t, x, y]) => (
        <text key={t} x={x} y={y} dy=".36em" fontFamily={FONT} fontSize={15.5} fill="#333">{t}</text>
      ))}
      <rect x={813} y={1408} width={30} height={15} fill={TEAL} />
      <rect x={813} y={1443} width={30} height={15} fill={LIGHT} />
      <text x={828} y={1478} dy=".36em" textAnchor="middle" fontFamily={FONT} fontSize={15} fill="#333">100%</text>
      <Battery x={828} y={1494} s={1.9} />
      <People n={1} x={817} y={1515} s={1.8} />
      <People n={2} x={825} y={1520} s={1.8} />
      <People n={3} x={835} y={1524} s={1.7} />
    </svg>
  );
}
